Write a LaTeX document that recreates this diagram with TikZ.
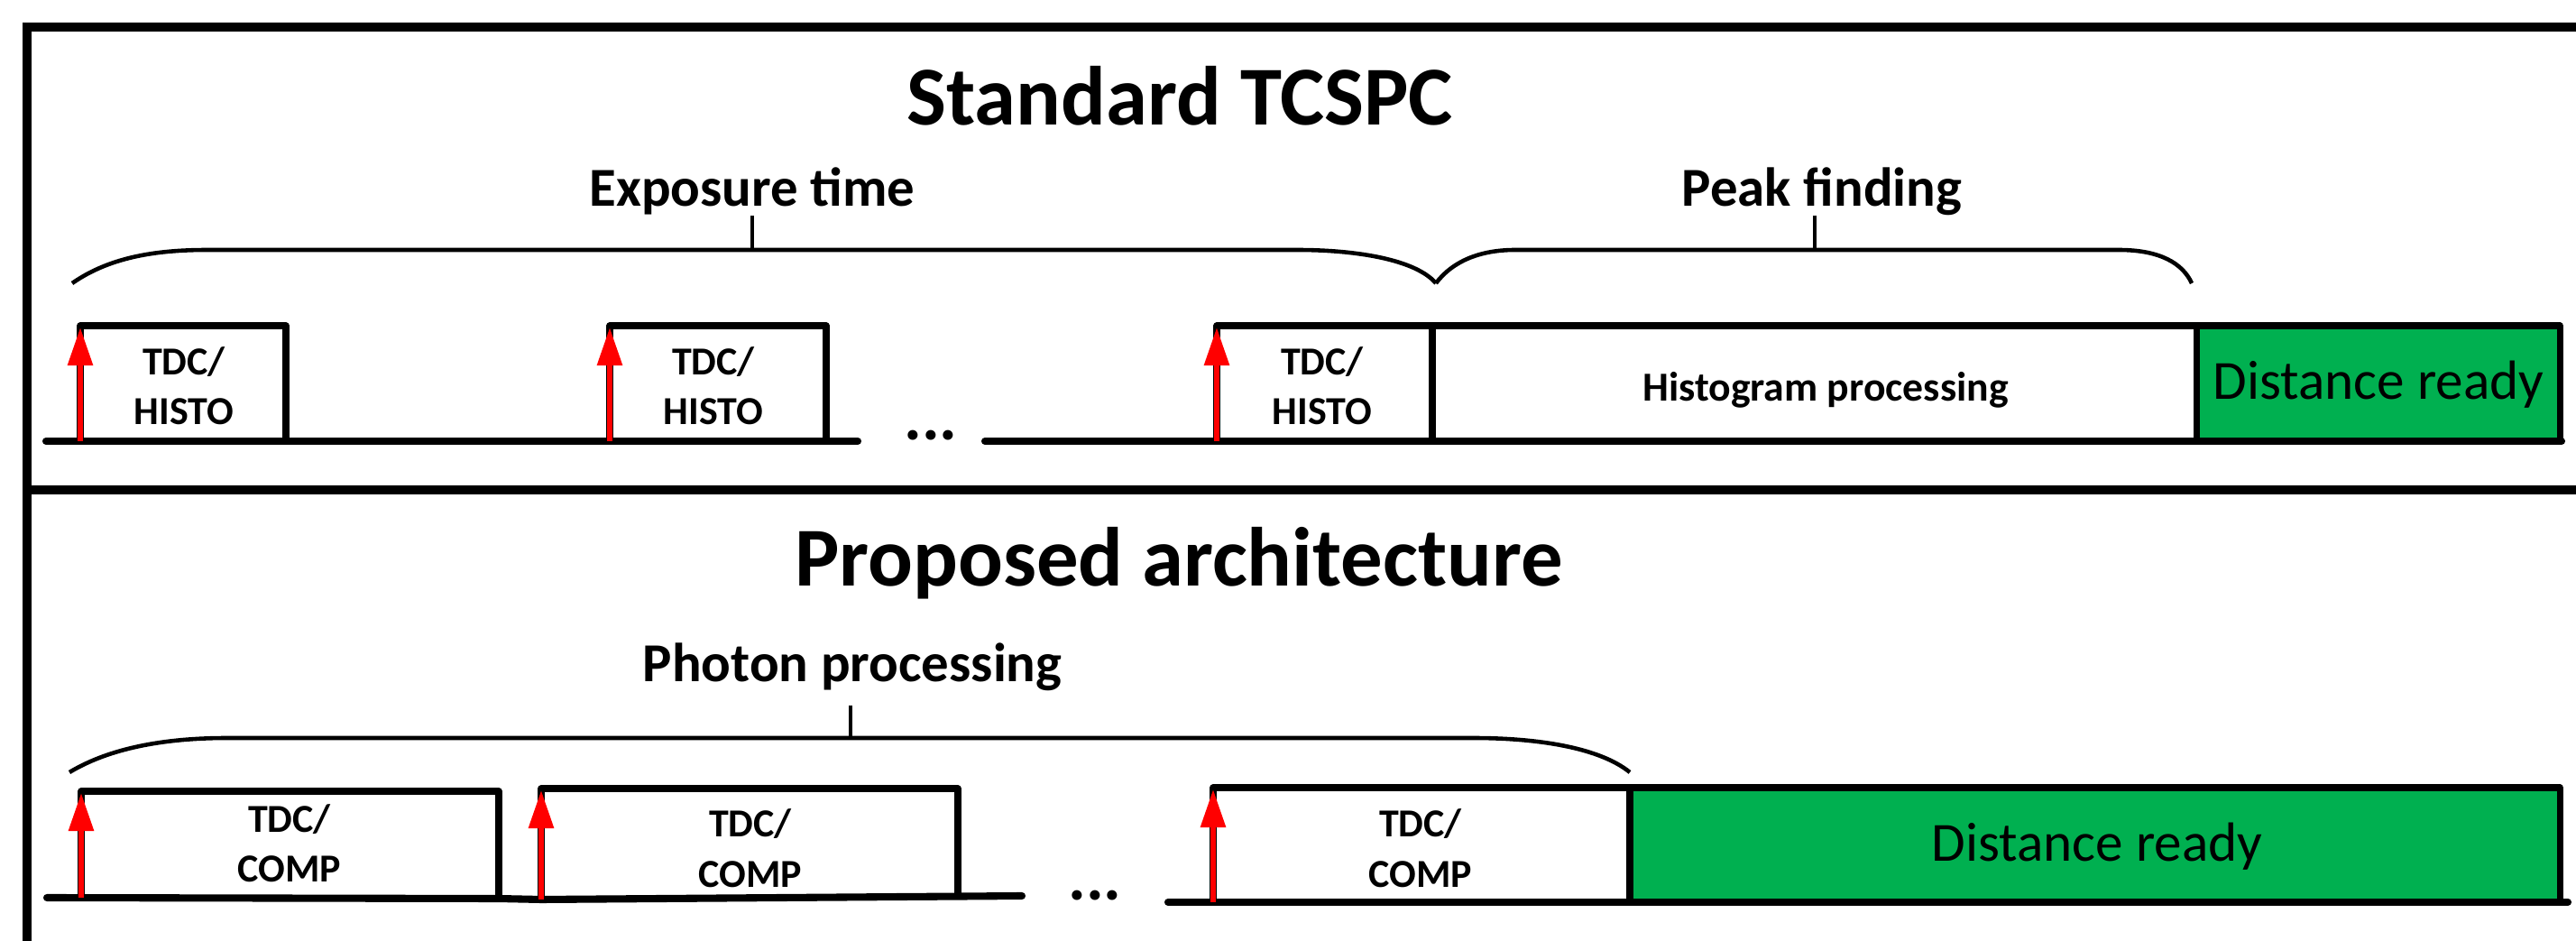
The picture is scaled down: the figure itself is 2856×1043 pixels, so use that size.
\documentclass[tikz,border=0pt]{standalone}
\usepackage{fontspec}
\setmainfont{Carlito}
\usetikzlibrary{arrows.meta}
\definecolor{dgreen}{HTML}{00B050}
\definecolor{pred}{HTML}{FF0000}
\begin{document}
\begin{tikzpicture}[x=0.01cm,y=-0.01cm,
  frame/.style={line width=2.8pt},
  boxline/.style={line width=2pt, line join=round},
  axis/.style={line width=2.3pt, line cap=round},
  brace/.style={line width=1.3pt},
  bracetick/.style={line width=0.9pt},
  photon/.style={draw=pred, line width=1.7pt, -{Triangle[length=12pt,width=7.7pt]}},
  title/.style={font=\bfseries\fontsize{26.4}{30}\selectfont, anchor=base, inner sep=0pt},
  phase/.style={font=\bfseries\fontsize{17.3}{20}\selectfont, anchor=base, inner sep=0pt},
  tdc/.style={font=\bfseries\fontsize{12.5}{15.65}\selectfont, align=center, anchor=base, inner sep=0pt},
  proc/.style={font=\bfseries\fontsize{13}{16}\selectfont, anchor=base, inner sep=0pt},
  ready/.style={font=\fontsize{17.4}{20}\selectfont, anchor=base, inner sep=0pt},
  dots/.style={font=\bfseries\fontsize{21}{25}\selectfont, anchor=base, inner sep=0pt}]
\useasboundingbox (0,0) rectangle (2856,1043);

% frame
\draw[frame] (30,1043) -- (30,30) -- (2856,30);
\draw[frame] (30,543) -- (2856,543);

% ---------------- Standard TCSPC ----------------
\node[title] (t1) at (1308,139) {Standard TCSPC};
\node[phase] (exp) at (834,229) {Exposure time};
\node[phase] (peak) at (2020,229) {Peak finding};

\draw[brace] (80,314) .. controls (120,286) and (170,277) .. (230,277) -- (1438,277)
  .. controls (1505,277) and (1570,288) .. (1592,314);
\draw[brace] (1592,314) .. controls (1610,290) and (1640,277) .. (1680,277) -- (2349,277)
  .. controls (2395,277) and (2420,292) .. (2430,314);
\coordinate (expt) at (834,277);
\coordinate (peakt) at (2012,277);
\draw[bracetick] (834,239) -- (expt);
\draw[bracetick] (2012,239) -- (peakt);

\fill[dgreen] (2435,361) rectangle (2838,489);
\draw[boxline] (89,489) -- (89,361) -- (317,361) -- (317,489);
\draw[boxline] (676,489) -- (676,361) -- (916,361) -- (916,489);
\draw[boxline] (1349,489) -- (1349,361) -- (2838,361) -- (2838,489);
\draw[boxline] (1588,361) -- (1588,489);
\draw[boxline] (2435,361) -- (2435,489);

\draw[axis] (51,489) -- (951,489);
\draw[axis] (1092,489) -- (2840,489);

\node[tdc] (h1) at (204,471) {TDC/\\HISTO};
\node[tdc] (h2) at (791,471) {TDC/\\HISTO};
\node[tdc] (h3) at (1466,471) {TDC/\\HISTO};
\node[proc] (hp) at (2024,445) {Histogram processing};
\node[ready] (dr1) at (2637,443) {Distance ready};
\node[dots] (el1) at (1032,488) {...};

\coordinate (a1b) at (89,489);  \coordinate (a1t) at (89,363);
\coordinate (a2b) at (676,489); \coordinate (a2t) at (676,363);
\coordinate (a3b) at (1349,489);\coordinate (a3t) at (1349,363);
\draw[photon] (a1b) -- (a1t);
\draw[photon] (a2b) -- (a2t);
\draw[photon] (a3b) -- (a3t);

% ---------------- Proposed architecture ----------------
\node[title] (t2) at (1307,650) {Proposed architecture};
\node[phase] (ph) at (945,755) {Photon processing};
\draw[brace] (77,856) .. controls (120,830) and (180,818) .. (252,818) -- (1633,818)
  .. controls (1710,818) and (1775,830) .. (1807,856);
\coordinate (pht) at (943,818);
\draw[bracetick] (943,782) -- (pht);

\fill[dgreen] (1807,873) rectangle (2838,1000);
\draw[boxline] (90,995) -- (90,877) -- (553,877) -- (553,997);
\draw[boxline] (600,997) -- (600,874) -- (1062,874) -- (1062,994);
\draw[boxline] (1345,1000) -- (1345,873) -- (2838,873) -- (2838,1000);
\draw[boxline] (1807,873) -- (1807,1000);

\draw[axis] (52,995) -- (553,996) -- (600,997) -- (1133,993);
\draw[axis] (1295,1000) -- (2847,1000);

\node[tdc] (c1) at (321,978) {TDC/\\COMP};
\node[tdc] (c2) at (832,983) {TDC/\\COMP};
\node[tdc] (c3) at (1575,983) {TDC/\\COMP};
\node[ready] (dr2) at (2325,955) {Distance ready};
\node[dots] (el2) at (1214,998) {...};

\coordinate (b1b) at (90,995);   \coordinate (b1t) at (90,879);
\coordinate (b2b) at (600,997);  \coordinate (b2t) at (600,876);
\coordinate (b3b) at (1345,1000);\coordinate (b3t) at (1345,875);
\draw[photon] (b1b) -- (b1t);
\draw[photon] (b2b) -- (b2t);
\draw[photon] (b3b) -- (b3t);
\end{tikzpicture}
\end{document}
